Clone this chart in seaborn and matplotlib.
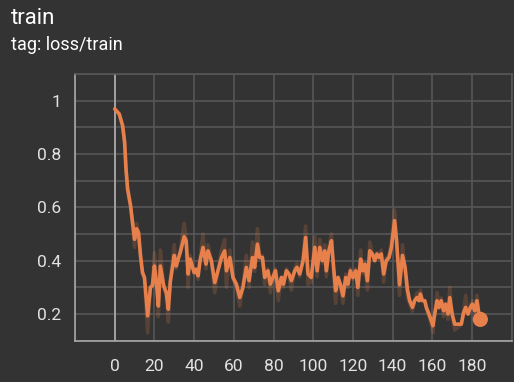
import matplotlib
matplotlib.use("Agg")
import matplotlib.pyplot as plt
import seaborn as sns
import pandas as pd
from matplotlib.ticker import MultipleLocator, FixedLocator

title = "train"
subtitle = "tag: loss/train"

steps = [0, 2.3, 4, 5, 5.7, 6.5, 8, 9, 10, 11, 12, 13, 14, 15, 16.6, 18, 19, 20, 21, 22,
         23, 24.7, 26, 27, 28, 30, 31, 32, 33, 35, 36, 37, 38, 40, 41, 42, 43, 44.5, 46, 47,
         48.7, 50.4, 52, 53.8, 55.4, 56.3, 58, 59.6, 61.3, 63, 64.6, 66.3, 67.7, 69.4, 70.5, 71.9, 73, 74.4, 75.6, 77.2,
         78.4, 79.7, 81, 82.4, 84, 85, 86.5, 87.8, 89, 90.7, 91.8, 93.2, 94.9, 96.2, 97.4, 99, 100.8, 102, 103.3, 104.6,
         105.8, 106.6, 107.9, 109.2, 110, 111.3, 112.5, 113.7, 115, 116.4, 117.5, 118.7, 120, 121.4, 122.5, 123.9, 125, 126.1, 127.3, 128.5,
         129.8, 131, 132.1, 133.2, 134.3, 135.5, 136.8, 138.2, 139.4, 141, 142, 143.5, 145, 146.3, 147.5, 148.6, 150, 151.1, 152.3, 153.3,
         154, 155, 156.2, 157, 158.3, 159.5, 160.3, 161.2, 162.4, 163.4, 164.5, 165.7, 166.7, 167.9, 168.8, 170, 171.3, 174.6, 175.8, 176.8,
         178, 179.2, 180.2, 181.4, 182.5, 183.6, 184.2]

smoothed = [0.969, 0.95, 0.906, 0.844, 0.744, 0.67, 0.606, 0.543, 0.48, 0.52, 0.506, 0.42, 0.356, 0.337, 0.193, 0.30, 0.306, 0.38, 0.32, 0.23,
            0.38, 0.306, 0.28, 0.218, 0.32, 0.42, 0.38, 0.406, 0.43, 0.49, 0.475, 0.35, 0.406, 0.356, 0.368, 0.343, 0.40, 0.45, 0.387, 0.437,
            0.40, 0.318, 0.362, 0.412, 0.437, 0.362, 0.412, 0.337, 0.312, 0.262, 0.30, 0.375, 0.325, 0.412, 0.375, 0.462, 0.412, 0.412, 0.337, 0.362,
            0.312, 0.337, 0.362, 0.287, 0.337, 0.312, 0.362, 0.35, 0.325, 0.362, 0.375, 0.35, 0.40, 0.487, 0.35, 0.337, 0.45, 0.362, 0.45, 0.40,
            0.437, 0.362, 0.437, 0.475, 0.40, 0.287, 0.337, 0.312, 0.268, 0.337, 0.312, 0.362, 0.337, 0.362, 0.30, 0.406, 0.362, 0.387, 0.325, 0.437,
            0.425, 0.40, 0.425, 0.412, 0.425, 0.35, 0.40, 0.412, 0.45, 0.55, 0.475, 0.31, 0.42, 0.375, 0.29, 0.25, 0.225, 0.25, 0.262, 0.25,
            0.275, 0.25, 0.25, 0.225, 0.20, 0.175, 0.156, 0.20, 0.25, 0.225, 0.25, 0.212, 0.237, 0.20, 0.262, 0.20, 0.162, 0.162, 0.206, 0.225,
            0.20, 0.225, 0.237, 0.212, 0.25, 0.193, 0.18]

raw = [0.97, 0.95, 0.90, 0.84, 0.74, 0.66, 0.60, 0.53, 0.45, 0.54, 0.50, 0.41, 0.35, 0.33, 0.13, 0.30, 0.31, 0.43, 0.32, 0.19,
       0.44, 0.30, 0.27, 0.17, 0.33, 0.46, 0.37, 0.41, 0.44, 0.54, 0.48, 0.30, 0.42, 0.35, 0.37, 0.33, 0.41, 0.50, 0.37, 0.46,
       0.40, 0.28, 0.36, 0.44, 0.48, 0.30, 0.44, 0.33, 0.30, 0.23, 0.30, 0.42, 0.30, 0.47, 0.36, 0.52, 0.41, 0.42, 0.31, 0.37,
       0.28, 0.34, 0.37, 0.25, 0.34, 0.30, 0.37, 0.35, 0.29, 0.37, 0.39, 0.34, 0.41, 0.53, 0.31, 0.32, 0.49, 0.34, 0.48, 0.39,
       0.46, 0.34, 0.45, 0.50, 0.39, 0.24, 0.34, 0.30, 0.24, 0.35, 0.30, 0.37, 0.33, 0.37, 0.27, 0.44, 0.35, 0.39, 0.29, 0.47,
       0.43, 0.40, 0.43, 0.41, 0.44, 0.32, 0.41, 0.42, 0.47, 0.59, 0.47, 0.27, 0.46, 0.36, 0.26, 0.24, 0.21, 0.25, 0.28, 0.25,
       0.29, 0.25, 0.25, 0.22, 0.19, 0.16, 0.13, 0.20, 0.28, 0.22, 0.26, 0.19, 0.24, 0.18, 0.30, 0.19, 0.14, 0.16, 0.21, 0.27,
       0.20, 0.23, 0.25, 0.21, 0.27, 0.19, 0.17]

x_ticks = [-20, 0, 20, 40, 60, 80, 100, 120, 140, 160, 180, 200]
x_labels = ["", "0", "20", "40", "60", "80", "100", "120", "140", "160", "180", ""]
y_ticks = [0.2, 0.4, 0.6, 0.8, 1.0]
y_labels = ["0.2", "0.4", "0.6", "0.8", "1"]

BG = "#333333"
GRID = "#575757"
AXIS = "#a8a8a8"
TEXT = "#e2e2e2"
LINE = "#e8804c"

sns.set_style("dark", {"axes.facecolor": BG, "figure.facecolor": BG})
plt.rcParams["font.family"] = ["Roboto", "DejaVu Sans"]

df = pd.DataFrame({"step": steps, "smoothed": smoothed, "raw": raw})

fig = plt.figure(figsize=(5.14, 3.82), dpi=100)
fig.patch.set_facecolor(BG)
ax = fig.add_axes([75 / 514, 1 - 340.7 / 382, (511.7 - 75) / 514, (340.7 - 74) / 382])
ax.set_facecolor(BG)

sns.lineplot(data=df, x="step", y="raw", ax=ax, color=LINE, alpha=0.2, linewidth=2.6, zorder=3)
sns.lineplot(data=df, x="step", y="smoothed", ax=ax, color=LINE, linewidth=2.6, zorder=4)
last = df.iloc[[-1]]
sns.scatterplot(data=last, x="step", y="smoothed", ax=ax, color=LINE, s=120, edgecolor="none", zorder=5)

ax.set_xlim(-20, 200)
ax.set_ylim(0.1, 1.1)
ax.xaxis.set_major_locator(FixedLocator(x_ticks))
ax.set_xticklabels(x_labels)
ax.yaxis.set_major_locator(FixedLocator(y_ticks))
ax.set_yticklabels(y_labels)
ax.yaxis.set_minor_locator(MultipleLocator(0.1))

ax.grid(True, which="both", axis="y", color=GRID, linewidth=1.2)
ax.grid(True, which="major", axis="x", color=GRID, linewidth=1.2)
ax.axvline(0, color=AXIS, linewidth=1.3, zorder=2)

for s in ["top", "right"]:
    ax.spines[s].set_color(GRID)
    ax.spines[s].set_linewidth(1.2)
for s in ["left", "bottom"]:
    ax.spines[s].set_color(AXIS)
    ax.spines[s].set_linewidth(1.2)

ax.tick_params(axis="both", which="both", direction="out", color=AXIS, width=1.2)
ax.tick_params(axis="y", which="major", length=6, pad=4, labelsize=12.5, labelcolor=TEXT)
ax.tick_params(axis="y", which="minor", length=6)
ax.tick_params(axis="x", which="major", length=7, pad=6, labelsize=12.5, labelcolor=TEXT)
ax.set_xlabel("")
ax.set_ylabel("")

fig.text(11 / 514, 1 - 18 / 382, title, color="white", fontsize=16, va="center", ha="left")
fig.text(11 / 514, 1 - 45 / 382, subtitle, color="white", fontsize=13, va="center", ha="left")

fig.savefig("out.png", dpi=100, facecolor=BG)
